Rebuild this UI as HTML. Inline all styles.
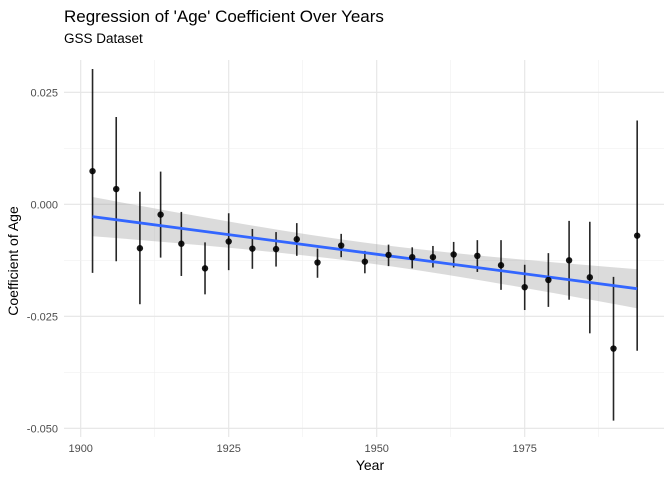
<!DOCTYPE html>
<html><head><meta charset="utf-8"><style>
body{margin:0;background:#fff;font-family:"Liberation Sans",sans-serif}
svg text{font-family:"Liberation Sans",sans-serif}
</style></head><body>
<svg id="c" width="672" height="480" xmlns="http://www.w3.org/2000/svg">
<rect width="672" height="480" fill="#fff"/>
<text x="64" y="22" font-size="17" fill="#000">Regression of 'Age' Coefficient Over Years</text>
<text x="64" y="43" font-size="13.5" fill="#000">GSS Dataset</text>
<g id="grid"></g><g id="band"></g><g id="marks"></g><g id="axes"></g>
<text x="370" y="470" font-size="14" text-anchor="middle">Year</text>
<text transform="translate(18,261) rotate(-90)" font-size="14" text-anchor="middle">Coefficient of Age</text>
</svg>
<script>
const years=[1902,1906,1910,1913.5,1917,1921,1925,1929,1933,1936.5,1940,1944,1948,1952,1956,1959.5,1963,1967,1971,1975,1979,1982.5,1986,1990,1994];
const coefs=[0.0074,0.0034,-0.0098,-0.0023,-0.0088,-0.0143,-0.0083,-0.0099,-0.0100,-0.0078,-0.0130,-0.0092,-0.0128,-0.0113,-0.0118,-0.0118,-0.0112,-0.0115,-0.0136,-0.0185,-0.0169,-0.0125,-0.0163,-0.0322,-0.0070];
const lows=[-0.0153,-0.0127,-0.0223,-0.0119,-0.0160,-0.0201,-0.0147,-0.0144,-0.0139,-0.0115,-0.0164,-0.0118,-0.0154,-0.0138,-0.0143,-0.0141,-0.0141,-0.0151,-0.0191,-0.0236,-0.0229,-0.0213,-0.0288,-0.0483,-0.0327];
const highs=[0.0302,0.0195,0.0028,0.0073,-0.0017,-0.0085,-0.0020,-0.0055,-0.0062,-0.0042,-0.0099,-0.0066,-0.0104,-0.0090,-0.0096,-0.0093,-0.0084,-0.0080,-0.0080,-0.0135,-0.0109,-0.0037,-0.0039,-0.0162,0.0187];
const xTicks=[1900,1925,1950,1975];
const yTicks=[0.025,0,-0.025,-0.05];
const yTickLabels=["0.025","0.000","-0.025","-0.050"];
const NS="http://www.w3.org/2000/svg";
const X=v=>80.7+(v-1900)*5.92;
const Y=v=>204.3-v*4480;
function mk(p,t,a){const e=document.createElementNS(NS,t);for(const k in a)e.setAttribute(k,a[k]);document.getElementById(p).appendChild(e);return e;}
const L=64,R=664,T=60,B=437;
// grid
for(let i=0;i<xTicks.length;i++){
 const l=mk('grid','line',{x1:X(xTicks[i]),x2:X(xTicks[i]),y1:T,y2:B,stroke:'#e5e5e5','stroke-width':1.1});
 
 
 const m=mk('grid','line',{x1:X(xTicks[i]+12.5),x2:X(xTicks[i]+12.5),y1:T,y2:B,stroke:'#f0f0f0','stroke-width':0.6});
 
 
 const t=mk('axes','text',{x:X(xTicks[i]),y:452,'font-size':11,'text-anchor':'middle',fill:'#4d4d4d'});
 t.textContent=xTicks[i];
 
 
}
for(let i=0;i<yTicks.length;i++){
 const l=mk('grid','line',{x1:L,x2:R,y1:Y(yTicks[i]),y2:Y(yTicks[i]),stroke:'#e5e5e5','stroke-width':1.1});
 
 
 if(i<yTicks.length-1){const m=mk('grid','line',{x1:L,x2:R,y1:Y(yTicks[i]-0.0125),y2:Y(yTicks[i]-0.0125),stroke:'#f0f0f0','stroke-width':0.6});
 
 }
 const t=mk('axes','text',{x:58,y:Y(yTicks[i])+4,'font-size':11,'text-anchor':'end',fill:'#4d4d4d'});
 t.textContent=yTickLabels[i];
 
 
}
// OLS fit with 95% band
const n=years.length;const mx=years.reduce((a,b)=>a+b)/n,my=coefs.reduce((a,b)=>a+b)/n;
let sxx=0,sxy=0;for(let i=0;i<n;i++){sxx+=(years[i]-mx)**2;sxy+=(years[i]-mx)*(coefs[i]-my);}
const b1=sxy/sxx,b0=my-b1*mx;let sse=0;for(let i=0;i<n;i++)sse+=(coefs[i]-b0-b1*years[i])**2;
const s=Math.sqrt(sse/(n-2)),tq=2.069;
const x0=years[0],x1=years[n-1];let up=[],dn=[];
for(let k=0;k<=40;k++){const xv=x0+(x1-x0)*k/40,f=b0+b1*xv,se=tq*s*Math.sqrt(1/n+(xv-mx)**2/sxx);up.push(X(xv)+','+Y(f+se));dn.unshift(X(xv)+','+Y(f-se));}
const band=mk('band','polygon',{points:up.concat(dn).join(' '),fill:'#999','fill-opacity':0.35});


// error bars and points
for(let i=0;i<n;i++){
 const e=mk('marks','line',{x1:X(years[i]),x2:X(years[i]),y1:Y(lows[i]),y2:Y(highs[i]),stroke:'#000','stroke-width':1.6,'stroke-opacity':0.85});
 
 
}
const fl=mk('marks','line',{x1:X(x0),y1:Y(b0+b1*x0),x2:X(x1),y2:Y(b0+b1*x1),stroke:'#3366FF','stroke-width':2.8});


for(let i=0;i<n;i++){
 const c=mk('marks','circle',{cx:X(years[i]),cy:Y(coefs[i]),r:3.2,fill:'#000','fill-opacity':0.9});
 
 
}
</script>
</body></html>
